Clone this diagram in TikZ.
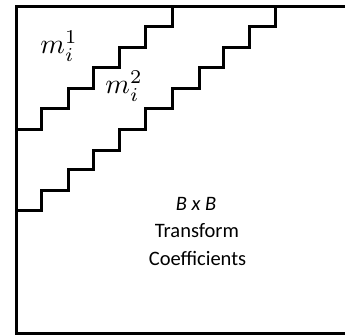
\documentclass[tikz,border=0pt]{standalone}
\usepackage{graphicx}
\usepackage{fontspec}
\setmainfont{Carlito}
\usetikzlibrary{calc}
\tikzset{
  edge/.style={line width=3pt, line join=miter},
  mlabel/.style={inner sep=0pt, anchor=base},
  txt/.style={inner sep=0pt, anchor=base, font=\fontsize{20.5}{24}\selectfont}
}
\begin{document}
\begin{tikzpicture}[x=1pt,y=-1pt]
\useasboundingbox (0,0) rectangle (345,336);
\begin{scope}
\clip (0,0) rectangle (345,336);
% outer box (open on the right)
\draw[edge] (350,6.5) -- (16.7,6.5) -- (16.7,333.3) -- (350,333.3);
% staircase 1
\draw[edge] (16.7,130) -- (41,130) -- (41,109) -- (68,109) -- (68,89) -- (93,89) -- (93,68)
  -- (119,68) -- (119,48) -- (145,48) -- (145,27) -- (172,27) -- (172,6.5);
% staircase 2
\draw[edge] (16.7,211) -- (41,211) -- (41,191) -- (68,191) -- (68,170) -- (93,170) -- (93,151)
  -- (119,151) -- (119,130) -- (145,130) -- (145,109) -- (172,109) -- (172,89) -- (199,89)
  -- (199,68) -- (223,68) -- (223,48) -- (249,48) -- (249,27) -- (275,27) -- (275,6.5);
\end{scope}
\node[mlabel] (m1) at (59,54) {\scalebox{2.8}{$m_i^1$}};
\node[mlabel] (m2) at (124,94) {\scalebox{2.8}{$m_i^2$}};
\node[txt] (t1) at (196,210.5) {\itshape B x B};
\node[txt] (t2) at (197,238) {Transform};
\node[txt] (t3) at (197.5,266) {Coefficients};
\end{tikzpicture}
\end{document}
